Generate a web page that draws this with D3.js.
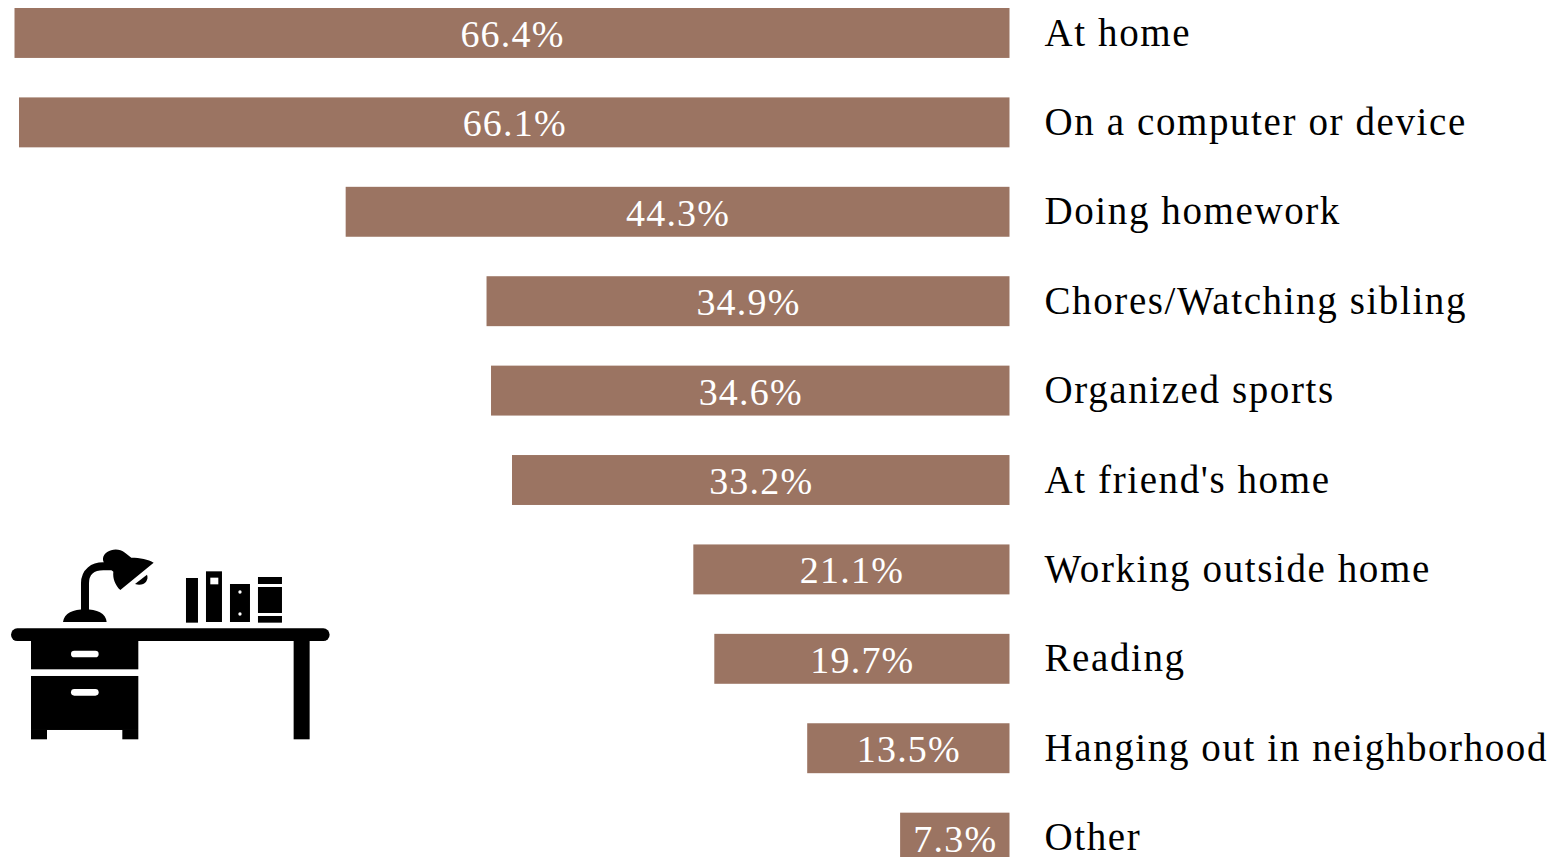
<!DOCTYPE html>
<html>
<head>
<meta charset="utf-8">
<script src="https://cdn.jsdelivr.net/npm/d3@7"></script>
<style>
  html, body { margin: 0; padding: 0; background: #fff; overflow: hidden; }
  svg { display: block; }
  text { font-family: "Liberation Serif", serif; }
</style>
</head>
<body>
<div id="chart"></div>
<script>
var categories = ["At home", "On a computer or device", "Doing homework", "Chores/Watching sibling",
  "Organized sports", "At friend's home", "Working outside home", "Reading",
  "Hanging out in neighborhood", "Other"];
var values = [66.4, 66.1, 44.3, 34.9, 34.6, 33.2, 21.1, 19.7, 13.5, 7.3];

var width = 1552;
var height = 857;
var barColor = "#9b7462";

var svg = d3.select("#chart")
  .append("svg")
  .attr("width", width)
  .attr("height", height);

var right = 1009.5;
var x = d3.scaleLinear().domain([0, 66.4]).range([right, 14.5]);
var y = d3.scaleBand().domain(categories).range([8, 862.6]).paddingInner(0.4415);

var rows = svg.selectAll("g.row")
  .data(categories)
  .enter()
  .append("g")
  .attr("class", "row");

rows.append("rect")
  .attr("x", function(d, i) { return x(values[i]); })
  .attr("y", function(d) { return y(d); })
  .attr("width", function(d, i) { return right - x(values[i]); })
  .attr("height", y.bandwidth())
  .attr("fill", barColor);

rows.append("text")
  .attr("x", function(d, i) { return (x(values[i]) + right) / 2 + 0.5; })
  .attr("y", function(d) { return y(d) + 39; })
  .attr("text-anchor", "middle")
  .attr("fill", "#fff")
  .style("font-size", "38px")
  .style("letter-spacing", "1.2px")
  .text(function(d, i) { return values[i].toFixed(1) + "%"; });

rows.append("text")
  .attr("x", 1044.5)
  .attr("y", function(d) { return y(d) + 37.5; })
  .attr("fill", "#000")
  .style("font-size", "39px")
  .style("letter-spacing", "1.6px")
  .text(function(d) { return d; });

// desk icon, traced in the coordinates of a 3x crop
var icon = svg.append("g")
  .attr("transform", "translate(0,530) scale(0.3333)")
  .attr("fill", "#000");

var iconBlocks = [
  [93, 333, 322, 85], [93, 438, 322, 162], [93, 600, 48, 28], [367, 600, 48, 28],
  [881, 333, 48, 295], [558, 144, 36, 134], [618, 124, 48, 152], [690, 162, 60, 114],
  [774, 141, 72, 21], [774, 171, 72, 78], [774, 258, 72, 20]
];
icon.selectAll("rect.block")
  .data(iconBlocks)
  .enter()
  .append("rect")
  .attr("class", "block")
  .attr("x", function(d) { return d[0]; })
  .attr("y", function(d) { return d[1]; })
  .attr("width", function(d) { return d[2]; })
  .attr("height", function(d) { return d[3]; });

icon.append("rect").attr("x", 33).attr("y", 295).attr("width", 956).attr("height", 38).attr("rx", 19);

var iconHoles = [[213, 362, 83, 20, 10], [213, 477, 83, 20, 10], [631, 143, 24, 20, 0]];
icon.selectAll("rect.hole")
  .data(iconHoles)
  .enter()
  .append("rect")
  .attr("class", "hole")
  .attr("x", function(d) { return d[0]; })
  .attr("y", function(d) { return d[1]; })
  .attr("width", function(d) { return d[2]; })
  .attr("height", function(d) { return d[3]; })
  .attr("rx", function(d) { return d[4]; })
  .attr("fill", "#fff");

icon.append("circle").attr("cx", 720).attr("cy", 186).attr("r", 5).attr("fill", "#fff");
icon.append("circle").attr("cx", 720).attr("cy", 252).attr("r", 5).attr("fill", "#fff");

// lamp
icon.append("path").attr("d", "M189,276 C192,250 220,238 255,238 C290,238 318,250 320,276 Z");
icon.append("path")
  .attr("d", "M255,245 L255,160 C255,125 280,109 310,109 L345,109")
  .attr("fill", "none")
  .attr("stroke", "#000")
  .attr("stroke-width", 24);
icon.append("path").attr("d", "M309,85 C312,62 350,48 375,68 L394,83 C420,83 445,88 461,98 L361,180 C345,165 338,145 340,125 C325,112 307,102 309,85 Z");
icon.append("path").attr("d", "M405,162 L441,134 C448,152 430,171 405,162 Z");
</script>
</body>
</html>
